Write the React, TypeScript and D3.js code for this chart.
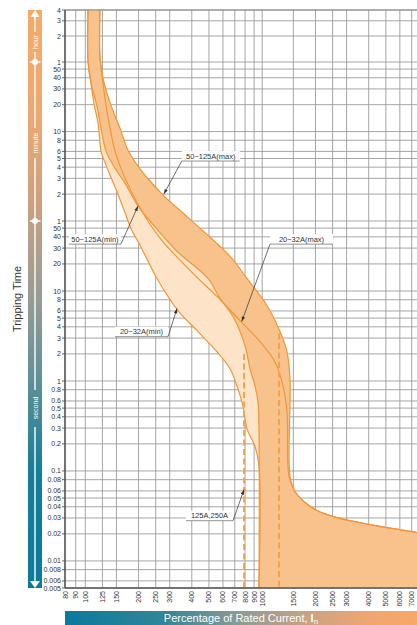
import React from 'react';
import * as d3 from 'd3';

// ---- tick values ----
const xTickValues = [80, 90, 100, 125, 150, 200, 250, 300, 400, 500, 600, 700, 800, 900, 1000, 1500, 2000, 2500, 3000, 4000, 5000, 6000, 7000];
const hourTicks = [4, 3, 2, 1];
const minuteTicks = [50, 40, 30, 20, 10, 8, 6, 5, 4, 3, 2, 1];
const secondTicks = [50, 40, 30, 20, 10, 8, 6, 5, 4, 3, 2, 1, 0.8, 0.6, 0.5, 0.4, 0.3, 0.2, 0.1, 0.08, 0.06, 0.05, 0.04, 0.03, 0.02, 0.01, 0.008, 0.006, 0.005];

// ---- curves: [percentage of In, seconds] ----
const min20: [number, number][] = [
  [103.6, 14400], [103.6, 3679], [107.7, 2089], [112.4, 1186], [118, 746], [122.7, 363], [126.4, 303],
  [137.9, 196], [150.5, 130], [165.5, 79.6], [182.9, 47.6], [203.8, 32.3], [254.3, 13.8], [334.2, 6.07],
  [433.6, 3.54], [555.4, 2.11], [657.7, 1.37], [729.7, 0.816], [778.8, 0.527], [821, 0.292], [910.6, 0.188],
  [959.2, 0.1125], [959.2, 0.005],
];
const min50: [number, number][] = [
  [103.6, 14400], [103.6, 3679], [107.7, 2089], [116, 1186], [122.7, 656], [130.9, 363], [147.2, 234],
  [167.7, 159], [198.5, 88.2], [232.3, 60], [329.8, 27.7], [493.9, 13.8], [577.4, 8.27], [683.8, 5.2],
  [799.3, 2.47], [853, 1.37], [910.6, 0.882], [946.9, 0.584], [959.2, 0.292], [959.2, 0.005],
];
const max20: [number, number][] = [
  [121, 14400], [121, 4183], [125.9, 2089], [130.9, 1186], [137.9, 656], [147.2, 363], [167.7, 181],
  [203.8, 83.8], [264.4, 38.7], [343, 22.0], [433.6, 13.8], [555.4, 8.71], [748.9, 4.69], [971.9, 2.74],
  [1181, 1.63], [1311, 0.882], [1381, 0.452], [1418, 0.087], [1533, 0.0591], [1746, 0.0446], [2040, 0.0363],
  [2648, 0.0303], [4068, 0.0253], [7500, 0.0206], [9000, 0.019],
];
const max50: [number, number][] = [
  [121, 14400], [121, 4183], [125.9, 2376], [132.6, 1615], [141.5, 1098], [157.1, 656], [174, 373],
  [198.5, 247], [232.3, 168], [275.1, 117], [356.7, 73.7], [463, 46.4], [657.3, 24.4], [819.6, 13.8],
  [1064, 6.91], [1261, 3.54], [1381, 2.11], [1436, 1.055], [1436, 0.087], [1533, 0.0591], [1746, 0.0446],
  [2040, 0.0363], [2648, 0.0303], [4068, 0.0253], [7500, 0.0206], [9000, 0.019],
];
// dashed instantaneous lines: [percentage, start time s]
const dashedLines: [number, number][] = [[790, 2.0], [1245, 3.37]];

// annotations: tip / elbow in data coordinates
const annotations = [
  { text: '50~125A(max)', tip: [278, 120], elbow: [351, 281], side: 'right', len: 58 },
  { text: '50~125A(min)', tip: [198.5, 88.2], elbow: [159, 33.2], side: 'left', len: 52 },
  { text: '20~32A(max)', tip: [766, 4.58], elbow: [1107, 33.2], side: 'right', len: 63 },
  { text: '20~32A(min)', tip: [330, 6.4], elbow: [293.5, 3.11], side: 'left', len: 53 },
  { text: '125A,250A', tip: [789, 0.062], elbow: [684, 0.028], side: 'left', len: 47 },
];

const FONT = '"Liberation Sans", Arial, Helvetica, sans-serif';

export default function App() {
  const W = 417, H = 625;
  const left = 65, right = 417, top = 10, bottom = 588;
  const x = d3.scaleLog().domain([80, 100, 7500]).range([left, 85.3, right]);
  const y = d3.scaleLog().domain([0.005, 1, 60, 3600, 14400]).range([bottom, 381, 221, 62, top]);

  const yTicks = [
    ...hourTicks.map(v => ({ v: v * 3600, label: String(v) })),
    ...minuteTicks.map(v => ({ v: v * 60, label: String(v) })),
    ...secondTicks.map(v => ({ v, label: String(v) })),
  ];

  const line = d3.line<[number, number]>()
    .x(d => x(d[0]))
    .y(d => y(d[1]))
    .curve(d3.curveCatmullRom.alpha(0.5));

  const bandPath = (lo: [number, number][], hi: [number, number][]) => {
    const a = line(lo) as string;
    const b = line([...hi].reverse()) as string;
    const lastLo = lo[lo.length - 1];
    const lastHi = hi[hi.length - 1];
    return `${a}L${x(lastLo[0])},${bottom + 20}L${x(lastHi[0]) + 20},${bottom + 20}L${x(lastHi[0]) + 20},${y(lastHi[1])}L${b.slice(1)}Z`;
  };

  const arrowHead = (tx: number, ty: number, ex: number, ey: number) => {
    const ang = Math.atan2(ty - ey, tx - ex);
    const L = 5, Wd = 1.7;
    const bx = tx - L * Math.cos(ang), by = ty - L * Math.sin(ang);
    const px = -Math.sin(ang) * Wd, py = Math.cos(ang) * Wd;
    return `M${tx},${ty}L${bx + px},${by + py}L${bx - px},${by - py}Z`;
  };

  const stroke = '#f39636';
  const bandX = 35;

  return (
    <svg width={W} height={H} style={{ position: 'absolute', left: 0, top: 0, fontFamily: FONT }}>
      <defs>
        <clipPath id="plotClip">
          <rect x={left} y={top} width={right - left} height={bottom - top} />
        </clipPath>
        <linearGradient id="vband" x1="0" y1="0" x2="0" y2="1">
          <stop offset="0" stopColor="#f7aa68" />
          <stop offset="0.19" stopColor="#eda871" />
          <stop offset="0.33" stopColor="#cba17f" />
          <stop offset="0.5" stopColor="#969c95" />
          <stop offset="0.64" stopColor="#5f9098" />
          <stop offset="0.8" stopColor="#157d9a" />
          <stop offset="1" stopColor="#0b7a9b" />
        </linearGradient>
        <linearGradient id="hband" x1="0" y1="0" x2="1" y2="0">
          <stop offset="0" stopColor="#0b7a9b" />
          <stop offset="0.28" stopColor="#2f8699" />
          <stop offset="0.5" stopColor="#8e9b94" />
          <stop offset="0.68" stopColor="#c8a283" />
          <stop offset="0.85" stopColor="#eea672" />
          <stop offset="1" stopColor="#f8a866" />
        </linearGradient>
      </defs>

      {/* grid */}
      <g>
        {xTickValues.map(v => (
          <line key={'gx' + v} x1={x(v)} x2={x(v)} y1={top} y2={bottom} stroke="#9c9c9c" strokeWidth={0.9} />
        ))}
        {yTicks.map((t, i) => (
          <line key={'gy' + i} x1={left} x2={right} y1={y(t.v)} y2={y(t.v)} stroke="#9c9c9c" strokeWidth={0.9} />
        ))}
      </g>

      {/* bands */}
      <g clipPath="url(#plotClip)">
        <path d={bandPath(min20, max50)} fill="#fde4c8" />
        <path d={bandPath(min50, max50)} fill="#f8c28c" />
        {[min20, max20, min50, max50].map((c, i) => (
          <path key={'c' + i} d={line(c) as string} fill="none" stroke={stroke} strokeWidth={1.2} />
        ))}
        {dashedLines.map(([p, s], i) => (
          <line key={'d' + i} x1={x(p)} x2={x(p)} y1={y(s)} y2={bottom} stroke="#f5a24c" strokeWidth={2} strokeDasharray="6,3.5" />
        ))}
      </g>

      {/* axes frame */}
      <line x1={left} x2={right} y1={top} y2={top} stroke="#8a8a8a" strokeWidth={1} />
      <line x1={left} x2={left} y1={top} y2={bottom} stroke="#555" strokeWidth={1.5} />
      <line x1={left} x2={right} y1={bottom} y2={bottom} stroke="#555" strokeWidth={1.5} />

      {/* y ticks */}
      {yTicks.map((t, i) => (
        <g key={'yt' + i}>
          <line x1={left - 3} x2={left} y1={y(t.v)} y2={y(t.v)} stroke="#555" strokeWidth={0.9} />
          <text x={left - 4} y={y(t.v)} textAnchor="end" dominantBaseline="central" fontSize={7} fill="#333">{t.label}</text>
        </g>
      ))}

      {/* x ticks */}
      {xTickValues.map(v => (
        <text key={'xt' + v} transform={`translate(${x(v) + 2.5},${bottom + 3}) rotate(-90)`} textAnchor="end" fontSize={7} fill="#333">{v}</text>
      ))}

      {/* annotations */}
      {annotations.map((a, i) => {
        const tx = x(a.tip[0]), ty = y(a.tip[1]);
        const ex = x(a.elbow[0]), ey = y(a.elbow[1]);
        const x0 = a.side === 'right' ? ex : ex - a.len;
        const x1 = a.side === 'right' ? ex + a.len : ex;
        return (
          <g key={'a' + i}>
            <rect x={x0} y={ey - 10} width={a.len} height={10} fill="#fff" />
            <line x1={x0} x2={x1} y1={ey} y2={ey} stroke="#777" strokeWidth={0.8} />
            <text x={(x0 + x1) / 2} y={ey - 2.5} textAnchor="middle" fontSize={7.5} fill="#333">{a.text}</text>
            <line x1={ex} y1={ey} x2={tx} y2={ty} stroke="#333" strokeWidth={0.7} />
            <path d={arrowHead(tx, ty, ex, ey)} fill="#333" />
          </g>
        );
      })}

      {/* left time band */}
      <rect x={28} y={top} width={14} height={bottom - top} fill="url(#vband)" />
      {[[17, 32], [52, 128], [158, 390], [427, 581]].map(([a, b], i) => (
        <line key={'wl' + i} x1={bandX} x2={bandX} y1={a} y2={b} stroke="#fff" strokeWidth={1.4} />
      ))}
      <path d={`M${bandX},${top}L${bandX - 4.5},${top + 7}L${bandX + 4.5},${top + 7}Z`} fill="#fff" />
      <path d={`M${bandX},${bottom}L${bandX - 5},${bottom - 7}L${bandX + 5},${bottom - 7}Z`} fill="#fff" />
      {[3600, 60].map(v => (
        <g key={'dot' + v}>
          <line x1={30} x2={40.5} y1={y(v)} y2={y(v)} stroke="#fff" strokeWidth={1.5} />
          <circle cx={bandX} cy={y(v)} r={3} fill="#fff" />
        </g>
      ))}
      {[['hour', 42], ['minute', 143], ['second', 408]].map(([t, py]) => (
        <text key={t as string} transform={`translate(${bandX},${py}) rotate(-90)`} textAnchor="middle" dominantBaseline="central" fontSize={7} fill="#fff">{t}</text>
      ))}

      {/* y title */}
      <text transform="translate(21,299) rotate(-90)" textAnchor="middle" fontSize={11} fill="#333">Tripping Time</text>

      {/* bottom bar */}
      <rect x={left} y={611} width={right - left} height={14} fill="url(#hband)" />
      <text x={(left + right) / 2} y={622} textAnchor="middle" fontSize={11} fill="#fff">
        Percentage of Rated Current, <tspan fontWeight="bold">I</tspan><tspan fontSize={8} dy={2}>n</tspan>
      </text>
    </svg>
  );
}
